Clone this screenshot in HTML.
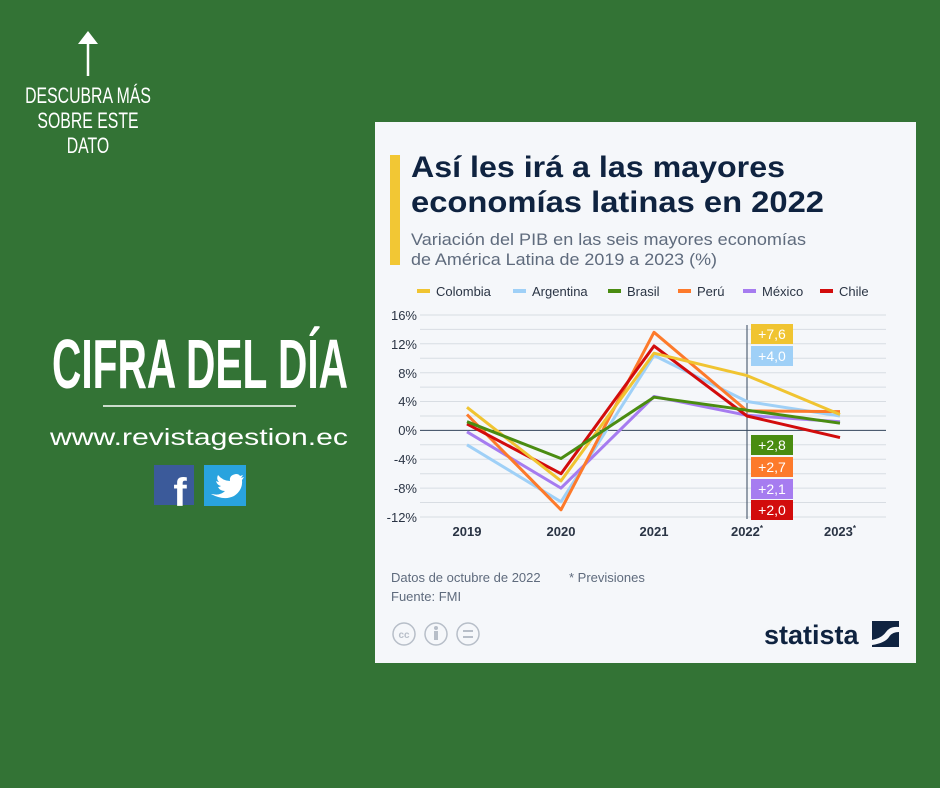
<!DOCTYPE html>
<html><head><meta charset="utf-8"><style>
body{margin:0;width:940px;height:788px;background:#337335;overflow:hidden;font-family:"Liberation Sans",sans-serif}
</style></head><body>
<svg width="940" height="788" viewBox="0 0 940 788" xmlns="http://www.w3.org/2000/svg" style="position:absolute;left:0;top:0">
<rect width="940" height="788" fill="#337335"/>
<line x1="88" y1="40" x2="88" y2="76" stroke="#fff" stroke-width="2.5"/>
<polygon points="78,44 88,31 98,44" fill="#fff"/>
<g fill="#fff" font-family="'Liberation Sans Narrow','Liberation Sans',sans-serif" font-size="22" text-anchor="middle">
<text x="88" y="103" transform="translate(88 0) scale(0.72 1) translate(-88 0)">DESCUBRA MÁS</text>
<text x="88" y="128" transform="translate(88 0) scale(0.72 1) translate(-88 0)">SOBRE ESTE</text>
<text x="88" y="153" transform="translate(88 0) scale(0.72 1) translate(-88 0)">DATO</text>
</g>
<text x="52" y="388" fill="#fff" font-weight="bold" font-size="70" font-family="'Liberation Sans Narrow','Liberation Sans',sans-serif" textLength="296" lengthAdjust="spacingAndGlyphs">CIFRA DEL DÍA</text>
<line x1="103" y1="406" x2="296" y2="406" stroke="#fff" stroke-width="1.5"/>
<text x="50" y="445" fill="#fff" font-size="23" textLength="298" lengthAdjust="spacingAndGlyphs">www.revistagestion.ec</text>
<rect x="154" y="465" width="40" height="40" fill="#3b5a9a"/>
<text x="180" y="506" fill="#fff" font-weight="bold" font-size="40" text-anchor="middle">f</text>
<rect x="204" y="465" width="42" height="41" fill="#29a3de"/>
<path d="M212 494 q8 2 13-3 q-5 0-7-4 q2 0 3-1 q-4-1-5-5 q2 1 3 1 q-3-3-1-7 q5 6 12 6 q-1-6 6-7 q3 0 4 2 l3-1 l-2 3 l3-1 l-2 3 q1 10-8 16 q-10 5-23-2z" fill="#fff"/>
<rect x="375" y="122" width="541" height="541" fill="#f5f7fa"/>
<rect x="390" y="155" width="10" height="110" fill="#f2c734"/>
<g fill="#0f2340" font-weight="bold" font-size="30"><text x="411" y="177" textLength="374" lengthAdjust="spacingAndGlyphs">Así les irá a las mayores</text><text x="411" y="212" textLength="413" lengthAdjust="spacingAndGlyphs">economías latinas en 2022</text></g>
<g fill="#5f6b7d" font-size="17"><text x="411" y="245" textLength="395" lengthAdjust="spacingAndGlyphs">Variación del PIB en las seis mayores economías</text><text x="411" y="265" textLength="306" lengthAdjust="spacingAndGlyphs">de América Latina de 2019 a 2023 (%)</text></g>
<g font-size="13" fill="#2a3444">
<rect x="417" y="289" width="13" height="4" fill="#f0c431"/><text x="436" y="296">Colombia</text>
<rect x="513" y="289" width="13" height="4" fill="#9fd0f7"/><text x="532" y="296">Argentina</text>
<rect x="608" y="289" width="13" height="4" fill="#4a8c11"/><text x="627" y="296">Brasil</text>
<rect x="678" y="289" width="13" height="4" fill="#fd7a2b"/><text x="697" y="296">Perú</text>
<rect x="743" y="289" width="13" height="4" fill="#a67cf0"/><text x="762" y="296">México</text>
<rect x="820" y="289" width="13" height="4" fill="#d20c0c"/><text x="839" y="296">Chile</text>
</g>
<g stroke="#d8dde3" stroke-width="1">
<line x1="420" y1="315" x2="886" y2="315"/><line x1="420" y1="329.4" x2="886" y2="329.4"/><line x1="420" y1="343.8" x2="886" y2="343.8"/><line x1="420" y1="358.3" x2="886" y2="358.3"/><line x1="420" y1="372.7" x2="886" y2="372.7"/><line x1="420" y1="387.1" x2="886" y2="387.1"/><line x1="420" y1="401.5" x2="886" y2="401.5"/><line x1="420" y1="416" x2="886" y2="416"/><line x1="420" y1="444.8" x2="886" y2="444.8"/><line x1="420" y1="459.3" x2="886" y2="459.3"/><line x1="420" y1="473.7" x2="886" y2="473.7"/><line x1="420" y1="488.1" x2="886" y2="488.1"/><line x1="420" y1="502.5" x2="886" y2="502.5"/><line x1="420" y1="517" x2="886" y2="517"/>
</g>
<line x1="420" y1="430.4" x2="886" y2="430.4" stroke="#34465c" stroke-width="1"/>
<g font-size="13" fill="#2a3444" text-anchor="end">
<text x="417" y="320">16%</text><text x="417" y="349">12%</text><text x="417" y="378">8%</text><text x="417" y="406">4%</text><text x="417" y="435">0%</text><text x="417" y="464">-4%</text><text x="417" y="493">-8%</text><text x="417" y="522">-12%</text>
</g>
<g font-size="13" font-weight="bold" fill="#2a3444" text-anchor="middle">
<text x="467" y="536">2019</text><text x="561" y="536">2020</text><text x="654" y="536">2021</text><text x="747" y="536">2022<tspan font-size="8" dy="-5">*</tspan></text><text x="840" y="536">2023<tspan font-size="8" dy="-5">*</tspan></text>
</g>
<line x1="747" y1="325" x2="747" y2="519" stroke="#34465c" stroke-width="1"/>
<g fill="none" stroke-width="3" stroke-linejoin="round">
<polyline stroke="#9fd0f7" points="467,444.8 561,501.8 654,355.4 747,401.5 840,416"/>
<polyline stroke="#a67cf0" points="467,431.8 561,488.1 654,396.5 747,415.3 840,421.7"/>
<polyline stroke="#fd7a2b" points="467,414.5 561,509.8 654,332.3 747,410.9 840,411.6"/>
<polyline stroke="#d20c0c" points="467,423.9 561,473.7 654,346 747,416 840,437.6"/>
<polyline stroke="#f0c431" points="467,407.3 561,480.9 654,353.2 747,375.6 840,414.5"/>
<polyline stroke="#4a8c11" points="467,421.7 561,458.5 654,397.2 747,410.2 840,423.2"/>
</g>
<g font-size="14" fill="#fff" text-anchor="middle">
<rect x="751" y="324" width="42" height="20" fill="#f0c431"/><text x="772" y="339">+7,6</text>
<rect x="751" y="346" width="42" height="20" fill="#9fd0f7"/><text x="772" y="361">+4,0</text>
<rect x="751" y="435" width="42" height="20" fill="#4a8c11"/><text x="772" y="450">+2,8</text>
<rect x="751" y="457" width="42" height="20" fill="#fd7a2b"/><text x="772" y="472">+2,7</text>
<rect x="751" y="479" width="42" height="20" fill="#a67cf0"/><text x="772" y="494">+2,1</text>
<rect x="751" y="500" width="42" height="20" fill="#d20c0c"/><text x="772" y="515">+2,0</text>
</g>
<g font-size="13" fill="#5f6b7d"><text x="391" y="582">Datos de octubre de 2022</text><text x="569" y="582">* Previsiones</text><text x="391" y="601">Fuente: FMI</text></g>
<g fill="none" stroke="#b7bec8" stroke-width="1.5"><circle cx="404" cy="634" r="11"/><circle cx="436" cy="634" r="11"/><circle cx="468" cy="634" r="11"/></g>
<text x="404" y="638" font-size="10" fill="#b7bec8" text-anchor="middle" font-weight="bold">cc</text>
<circle cx="436" cy="628" r="2" fill="#b7bec8"/><rect x="434" y="631" width="4" height="9" fill="#b7bec8"/>
<rect x="463" y="630" width="10" height="2" fill="#b7bec8"/><rect x="463" y="636" width="10" height="2" fill="#b7bec8"/>
<text x="764" y="644" font-size="27" font-weight="bold" fill="#0f2340">statista</text>
<rect x="872" y="621" width="27" height="26" fill="#0f2340"/>
<path d="M872 640 q10 -2 14 -8 q4 -6 13 -5 v5 q-7 0 -10 5 q-4 6 -17 8z" fill="#f5f7fa"/>
</svg>
</body></html>
